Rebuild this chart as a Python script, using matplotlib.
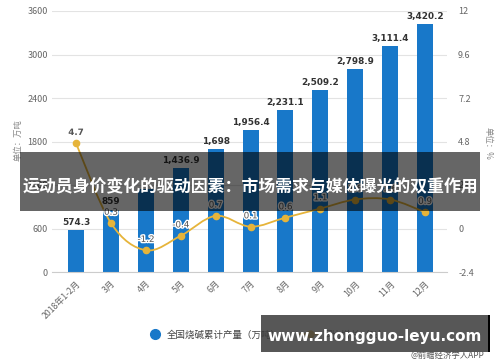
import matplotlib
matplotlib.use("Agg")
import matplotlib.pyplot as plt
import matplotlib.patheffects as pe
from matplotlib.path import Path
from matplotlib.patches import PathPatch, Rectangle
from matplotlib.lines import Line2D
import numpy as np

plt.rcParams['font.family'] = ['Noto Sans CJK SC', 'DejaVu Sans']

# data
months = ["2018年1-2月", "3月", "4月", "5月", "6月", "7月", "8月", "9月", "10月", "11月", "12月"]
output = [574.3, 859, 1148.5, 1436.9, 1698, 1956.4, 2231.1, 2509.2, 2798.9, 3111.4, 3420.2]
growth = [4.7, 0.3, -1.2, -0.4, 0.7, 0.1, 0.6, 1.1, 1.6, 1.6, 0.9]
# the April label sits under the title banner text in the source, so it is not shown
bar_labels = ["574.3", "859", None, "1,436.9", "1,698", "1,956.4", "2,231.1",
              "2,509.2", "2,798.9", "3,111.4", "3,420.2"]
left_ticks = [0, 600, 1200, 1800, 2400, 3000, 3600]
right_ticks = [-2.4, 0, 2.4, 4.8, 7.2, 9.6, 12]
right_tick_labels = ["-2.4", "0", "2.4", "4.8", "7.2", "9.6", "12"]

BLUE = "#1878c9"
GOLD = "#e6b43a"
GRAY = "#666666"

W, H = 500, 362
fig = plt.figure(figsize=(W / 100, H / 100), dpi=100)
ax = fig.add_axes([52 / W, 1 - 272 / H, (447 - 52) / W, (272 - 11) / H])
ax2 = ax.twinx()

x = np.arange(len(months))
ax.bar(x, output, width=0.46, color=BLUE, zorder=2)
for xi, v, lab in zip(x, output, bar_labels):
    if lab is None:
        continue
    ax.text(xi, v + 45, lab, ha="center", va="bottom", fontsize=6.4,
            fontweight="bold", color="#333333", family="DejaVu Sans")

ax.set_xlim(-0.69, len(months) - 1 + 0.63)
ax.set_ylim(0, 3600)
ax.set_yticks(left_ticks)
ax.set_yticklabels([str(t) for t in left_ticks])
ax.tick_params(axis="y", length=0, pad=3, labelsize=6.5, labelcolor=GRAY)
ax.grid(axis="y", color="#e3e3e3", linewidth=0.8, zorder=0)
ax.set_axisbelow(True)
ax.set_xticks(x)
ax.set_xticklabels(months, rotation=45, ha="right", rotation_mode="anchor",
                   fontsize=6.3, color=GRAY)
ax.tick_params(axis="x", length=0, pad=5)
for s in ["top", "right", "left"]:
    ax.spines[s].set_visible(False)
    ax2.spines[s].set_visible(False)
ax.spines["bottom"].set_color("#cccccc")
ax2.spines["bottom"].set_visible(False)

# smooth growth line drawn as cubic bezier segments through the points
pts = np.column_stack([x, growth]).astype(float)
ext = np.vstack([pts[0], pts, pts[-1]])
verts = [tuple(pts[0])]
codes = [Path.MOVETO]
for i in range(len(pts) - 1):
    p0, p1, p2, p3 = ext[i], ext[i + 1], ext[i + 2], ext[i + 3]
    c1 = p1 + (p2 - p0) / 6
    c2 = p2 - (p3 - p1) / 6
    verts += [tuple(c1), tuple(c2), tuple(p2)]
    codes += [Path.CURVE4] * 3
ax2.add_patch(PathPatch(Path(verts, codes), facecolor="none", edgecolor=GOLD,
                        linewidth=1.3, zorder=3))
ax2.plot(x, growth, "o", color=GOLD, markersize=4.5, zorder=4)
for xi, g in zip(x, growth):
    ax2.text(xi, g + 0.35, f"{g}", ha="center", va="bottom", fontsize=6.3,
             color="#555555", fontweight="bold" if xi == 0 else "normal",
             family="DejaVu Sans",
             path_effects=[pe.withStroke(linewidth=2, foreground="white")], zorder=5)

ax2.set_ylim(-2.4, 12)
ax2.set_yticks(right_ticks)
ax2.set_yticklabels(right_tick_labels)
ax2.tick_params(axis="y", length=0, pad=8, labelsize=6.5, labelcolor=GRAY)

fig.text(18 / W, 1 - 140 / H, "单位：万吨", rotation=90, ha="center", va="center",
         fontsize=6, color="#888888")
fig.text(488 / W, 1 - 143 / H, "单位：%", rotation=270, ha="center", va="center",
         fontsize=6, color="#888888")

# legend
handles = [Line2D([], [], marker="o", linestyle="none", color=BLUE, markersize=7),
           Line2D([], [], marker="o", linestyle="-", color=GOLD, markersize=5)]
fig.legend(handles, ["全国烧碱累计产量（万吨）", "同比增长（%）"], loc="center left",
           bbox_to_anchor=(137 / W, 1 - 335 / H), ncol=2, frameon=False,
           fontsize=6.8, handletextpad=0.3, columnspacing=2, labelcolor="#444444")

# overlay banners
fig.patches.append(Rectangle((20 / W, 1 - 211 / H), 460 / W, 59 / H, transform=fig.transFigure,
                             facecolor="black", alpha=0.6, edgecolor="none", zorder=10))
fig.text(250 / W, 1 - 187 / H, "运动员身价变化的驱动因素：市场需求与媒体曝光的双重作用",
         ha="center", va="center", fontsize=12.2, fontweight="bold", color="white", zorder=11)

fig.patches.append(Rectangle((261 / W, 1 - 352 / H), 229 / W, 37 / H, transform=fig.transFigure,
                             facecolor="#3a3a3a", alpha=0.85, edgecolor="none", zorder=10))
fig.patches.append(Rectangle((488 / W, 1 - 352 / H), 2 / W, 37 / H, transform=fig.transFigure,
                             facecolor="black", edgecolor="none", zorder=10))
fig.text(375 / W, 1 - 336 / H, "www.zhongguo-leyu.com", ha="center", va="center",
         fontsize=11, fontweight="bold", color="white", family="DejaVu Sans", zorder=11)
fig.text(484 / W, 1 - 355 / H, "@前瞻经济学人APP", ha="right", va="center",
         fontsize=6, color="#555555", zorder=11)

fig.savefig("out.png", dpi=100)
